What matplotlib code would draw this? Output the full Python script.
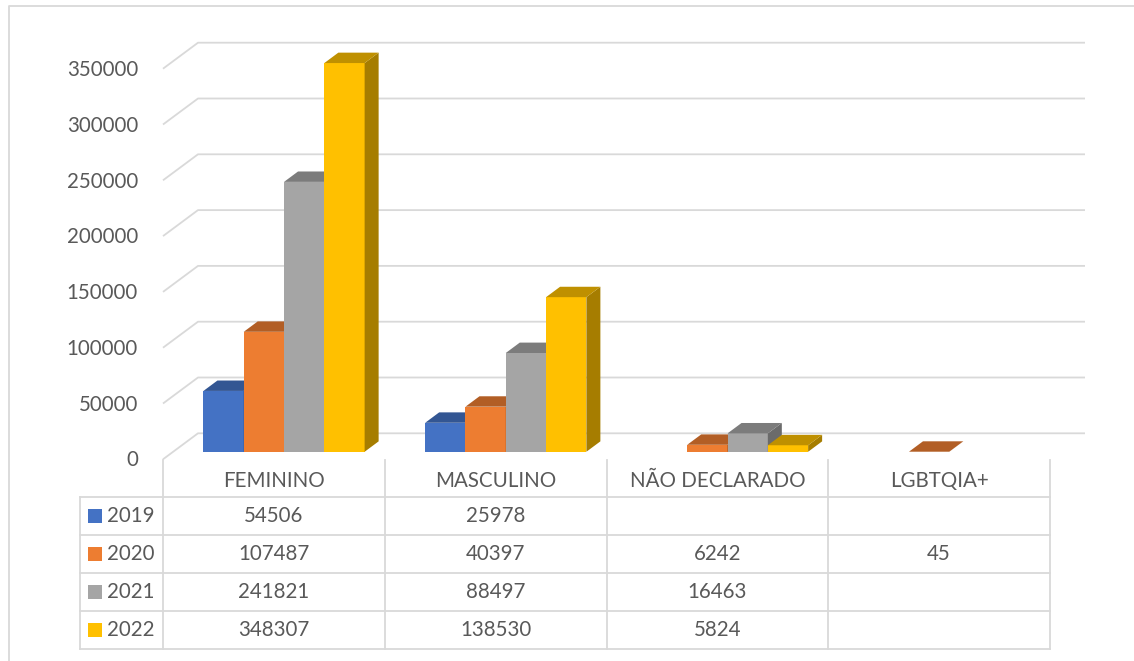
import numpy as np
import matplotlib
matplotlib.use('Agg')
import matplotlib.pyplot as plt
from matplotlib.patches import Polygon
from matplotlib.colors import to_rgb

plt.rcParams['font.family'] = ['Lato', 'DejaVu Sans']

categories = ['FEMININO', 'MASCULINO', 'NÃO DECLARADO', 'LGBTQIA+']
years = ['2019', '2020', '2021', '2022']
v2019 = [54506, 25978, None, None]
v2020 = [107487, 40397, 6242, 45]
v2021 = [241821, 88497, 16463, None]
v2022 = [348307, 138530, 5824, None]
series = [v2019, v2020, v2021, v2022]
colors = ['#4472C4', '#ED7D31', '#A5A5A5', '#FFC000']
yticks = [0, 50000, 100000, 150000, 200000, 250000, 300000, 350000]

W, H = 1134, 661
TXT = '#595959'
GRID = '#D9D9D9'
FS = 14.8

# pixel calibration of the front plane
COL_W = 221.75          # px per category
X0_PX = 163             # left edge of first category column
ZERO_PY = 459.3         # y (from top) of value 0 on the front plane
PX_PER_UNIT = 390.6 / 350000

# oblique depth vector (full floor depth) in data units
DX = 35 / COL_W
DV = 26 / PX_PER_UNIT
F0, T = 0.29, 0.40      # bar start depth and thickness (fractions of depth)
BW = 40.3 / COL_W       # bar width


def shade(c, k):
    r, g, b = to_rgb(c)
    return (r * k, g * k, b * k)


def fig_xy(x, y):
    return (x / W, 1 - y / H)


fig = plt.figure(figsize=(W / 100, H / 100), dpi=100)
ax = fig.add_axes([0, 0, 1, 1])
ax.set_xlim(-0.5 - X0_PX / COL_W, -0.5 + (W - X0_PX) / COL_W)
ax.set_ylim((ZERO_PY - H) / PX_PER_UNIT, ZERO_PY / PX_PER_UNIT)
ax.axis('off')

# back wall gridlines and left wall diagonals
xl = -0.5
xr = len(categories) - 0.5
for v in yticks:
    ax.plot([xl, xl + DX, xr + DX], [v, v + DV, v + DV], color=GRID, lw=1.3,
            zorder=1, solid_capstyle='butt')
    ax.text(xl - 25 / COL_W, v - 1.2 / PX_PER_UNIT, str(v), ha='right', va='center',
            fontsize=FS, color=TXT)

# 3D-looking columns
sx, sv = F0 * DX, F0 * DV
tx, tv = T * DX, T * DV
z = 2
for i in range(len(categories)):
    for j, vals in enumerate(series):
        val = vals[i]
        if val is None:
            continue
        x0 = i + sx - 2 * BW + j * BW
        x1 = x0 + BW
        ax.bar(x0, val, width=BW, bottom=sv, align='edge', color=colors[j],
               linewidth=0, zorder=z)
        top = [(x0, sv + val), (x1, sv + val), (x1 + tx, sv + val + tv), (x0 + tx, sv + val + tv)]
        side = [(x1, sv), (x1, sv + val), (x1 + tx, sv + val + tv), (x1 + tx, sv + tv)]
        ax.add_patch(Polygon(side, closed=True, facecolor=shade(colors[j], 0.65),
                             edgecolor='none', zorder=z + 0.1))
        ax.add_patch(Polygon(top, closed=True, facecolor=shade(colors[j], 0.75),
                             edgecolor='none', zorder=z + 0.2))
        z += 1

# data table
lw = 1.3
col_edges = [X0_PX + COL_W * k for k in range(len(categories) + 1)]
row_edges = [497, 535, 573, 611, 649]
tb = dict(color=GRID, lw=lw, transform=fig.transFigure, zorder=50)

for x in col_edges:
    fig.add_artist(plt.Line2D(*zip(fig_xy(x, 460), fig_xy(x, row_edges[-1])), **tb))
fig.add_artist(plt.Line2D(*zip(fig_xy(80, row_edges[0]), fig_xy(80, row_edges[-1])), **tb))
for y in row_edges:
    fig.add_artist(plt.Line2D(*zip(fig_xy(80, y), fig_xy(col_edges[-1], y)), **tb))

for k, name in enumerate(categories):
    cx = (col_edges[k] + col_edges[k + 1]) / 2
    fig.text(*fig_xy(cx, 481), name, ha='center', va='center', fontsize=FS, color=TXT)

for j, (yr, vals) in enumerate(zip(years, series)):
    cy = (row_edges[j] + row_edges[j + 1]) / 2
    kx, ky = fig_xy(88, cy + 7)
    fig.add_artist(plt.Rectangle((kx, ky), 14 / W, 14 / H, facecolor=colors[j],
                                 edgecolor='none', transform=fig.transFigure))
    fig.text(*fig_xy(107, cy), yr, ha='left', va='center', fontsize=FS, color=TXT)
    for k, val in enumerate(vals):
        if val is None:
            continue
        cx = (col_edges[k] + col_edges[k + 1]) / 2
        fig.text(*fig_xy(cx, cy), str(val), ha='center', va='center', fontsize=FS, color=TXT)

# chart frame
fig.add_artist(plt.Line2D(*zip(fig_xy(8.5, H), fig_xy(8.5, 6), fig_xy(W, 6)),
                          color=GRID, lw=1.3, transform=fig.transFigure))

fig.savefig('out.png', dpi=100, facecolor='white')
